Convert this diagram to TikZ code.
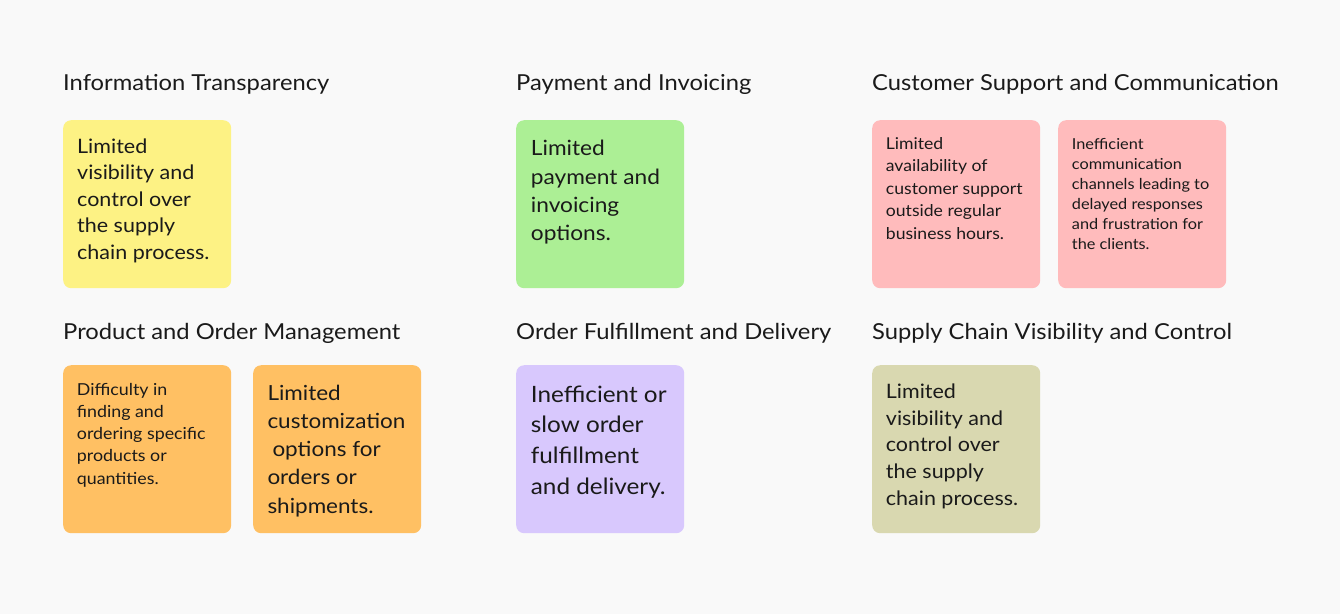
\documentclass[tikz,border=0pt]{standalone}
\usepackage{fontspec}
\setmainfont{Lato}[FakeStretch=1.08]
\definecolor{bg}{HTML}{F9F9F9}
\definecolor{ink}{HTML}{1A1A1A}
\definecolor{cyellow}{HTML}{FDF284}
\definecolor{cgreen}{HTML}{ACEF95}
\definecolor{cpink}{HTML}{FFBBBC}
\definecolor{corange}{HTML}{FFC063}
\definecolor{cpurple}{HTML}{D8C8FD}
\definecolor{colive}{HTML}{D9D8B0}
\newcommand{\cardtxt}[3]{\parbox[t]{160pt}{\raggedright\fontsize{#1}{#2}\selectfont #3}}
\tikzset{
  card/.style={rectangle, rounded corners=8pt, minimum width=168pt, minimum height=168pt, inner sep=0pt, anchor=north west, draw=none, fill=#1},
  heading/.style={anchor=base west, inner sep=0pt, text=ink, font=\fontsize{22}{26}\selectfont},
  cardtext/.style={anchor=base west, inner sep=0pt, text=ink}
}
\begin{document}
\begin{tikzpicture}[x=1pt,y=-1pt]
\fill[bg] (0,0) rectangle (1340,614);
\useasboundingbox (0,0) rectangle (1340,614);
% headings
\node[heading] (h1) at (63,90.7) {Information Transparency};
\node[heading] (h2) at (516,90.7) {Payment and Invoicing};
\node[heading] (h3) at (872,90.7) {Customer Support and Communication};
\node[heading] (h4) at (63,339.3) {Product and Order Management};
\node[heading] (h5) at (516,339.3) {Order Fulfillment and Delivery};
\node[heading] (h6) at (872,339.3) {Supply Chain Visibility and Control};
% cards
\node[card=cyellow] (c1) at (63,120) {};
\node[card=cgreen] (c2) at (516,120) {};
\node[card=cpink] (c3) at (872,120) {};
\node[card=cpink] (c4) at (1058,120) {};
\node[card=corange] (c5) at (63,365) {};
\node[card=corange] (c6) at (253,365) {};
\node[card=cpurple] (c7) at (516,365) {};
\node[card=colive] (c8) at (872,365) {};
% card texts
\node[cardtext] (t1) at (77,153.3) {\cardtxt{19.9}{26.5}{Limited\\visibility and\\control over\\the supply\\chain process.}};
\node[cardtext] (t2) at (530.7,155.7) {\cardtxt{21}{28.4}{Limited\\payment and\\invoicing\\options.}};
\node[cardtext] (t3) at (885.7,149.3) {\cardtxt{16.3}{22.5}{Limited\\availability of\\customer support\\outside regular\\business hours.}};
\node[cardtext] (t4) at (1071.7,149) {\cardtxt{15.1}{20}{Inefficient\\communication\\channels leading to\\delayed responses\\and frustration for\\the clients.}};
\node[cardtext] (t5) at (76.7,395) {\cardtxt{16.5}{22.3}{Difficulty in\\finding and\\ordering specific\\products or\\quantities.}};
\node[cardtext] (t6) at (267.3,400) {\cardtxt{20.8}{28.3}{Limited\\customization\\\hspace*{5pt}options for\\orders or\\shipments.}};
\node[cardtext] (t7) at (530.7,402.3) {\cardtxt{22.5}{30.67}{Inefficient or\\slow order\\fulfillment\\and delivery.}};
\node[cardtext] (t8) at (885.7,398.3) {\cardtxt{19.9}{26.7}{Limited\\visibility and\\control over\\the supply\\chain process.}};
\end{tikzpicture}
\end{document}
